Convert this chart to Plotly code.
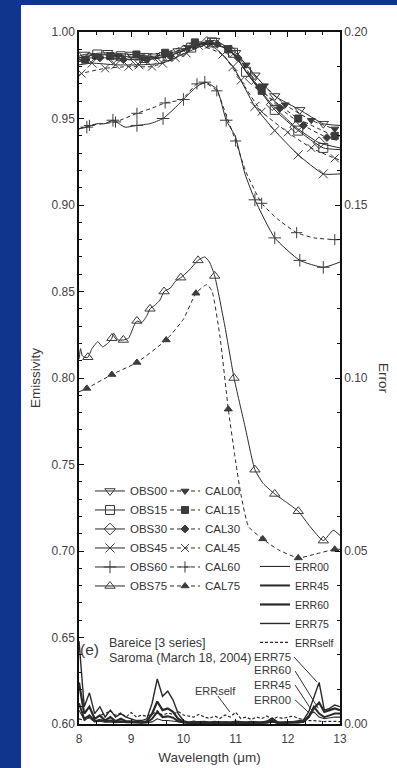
import plotly.graph_objects as go

# ---------------- data ----------------
# Emissivity curves (left axis)
obs00_wl = [8.0, 8.1, 8.55, 9.0, 9.45, 9.9, 10.25, 10.6, 11.0, 11.37, 11.75, 12.23, 12.68, 13.0]
obs00 = [0.986, 0.987, 0.988, 0.987, 0.986, 0.989, 0.993, 0.995, 0.988, 0.975, 0.963, 0.955, 0.947, 0.946]
obs00_mk = [8.1, 8.55, 9.0, 9.45, 9.9, 10.25, 10.6, 11.0, 11.37, 11.75, 12.23, 12.68]

cal00_wl = [8.0, 8.3, 8.75, 9.2, 9.65, 10.1, 10.5, 10.85, 11.2, 11.55, 11.95, 12.45, 12.9, 13.0]
cal00 = [0.985, 0.986, 0.986, 0.985, 0.987, 0.991, 0.994, 0.991, 0.981, 0.969, 0.958, 0.949, 0.944, 0.944]
cal00_mk = [8.3, 8.75, 9.2, 9.65, 10.1, 10.5, 10.85, 11.2, 11.55, 11.95, 12.45, 12.9]

obs15_wl = [8.0, 8.35, 8.8, 9.25, 9.7, 10.15, 10.55, 10.95, 11.2, 11.75, 12.2, 12.68, 13.0]
obs15 = [0.985, 0.987, 0.986, 0.985, 0.986, 0.991, 0.994, 0.988, 0.977, 0.955, 0.943, 0.933, 0.932]
obs15_mk = [8.35, 8.8, 9.25, 9.7, 10.15, 10.55, 10.95, 11.2, 11.75, 12.2, 12.68]

cal15_wl = [8.0, 8.12, 8.6, 9.1, 9.65, 10.22, 10.86, 11.5, 12.2, 12.9, 13.0]
cal15 = [0.983, 0.984, 0.986, 0.987, 0.988, 0.994, 0.990, 0.966, 0.950, 0.940, 0.940]
cal15_mk = [8.12, 8.6, 9.1, 9.65, 10.22, 10.86, 11.5, 12.2, 12.9]

obs30_wl = [8.0, 8.2, 8.65, 9.1, 9.55, 10.0, 10.45, 10.9, 11.3, 11.7, 12.15, 12.6, 13.0]
obs30 = [0.984, 0.985, 0.985, 0.984, 0.985, 0.989, 0.994, 0.989, 0.973, 0.958, 0.945, 0.936, 0.933]
obs30_mk = [8.2, 8.65, 9.1, 9.55, 10.0, 10.45, 10.9, 11.3, 11.7, 12.15, 12.6]

cal30_wl = [8.0, 8.4, 8.85, 9.3, 9.75, 10.2, 10.65, 11.05, 11.45, 11.85, 12.3, 12.75, 13.0]
cal30 = [0.983, 0.985, 0.984, 0.984, 0.986, 0.992, 0.993, 0.985, 0.968, 0.956, 0.946, 0.939, 0.937]
cal30_mk = [8.4, 8.85, 9.3, 9.75, 10.2, 10.65, 11.05, 11.45, 11.85, 12.3, 12.75]

obs45_wl = [8.0, 8.25, 8.7, 9.15, 9.6, 10.05, 10.5, 10.95, 11.37, 11.75, 12.2, 12.68, 13.0]
obs45 = [0.981, 0.982, 0.981, 0.981, 0.982, 0.988, 0.993, 0.980, 0.957, 0.943, 0.929, 0.918, 0.918]
obs45_mk = [8.25, 8.7, 9.15, 9.6, 10.05, 10.5, 10.95, 11.37, 11.75, 12.2, 12.68]

cal45_wl = [8.0, 8.05, 8.5, 8.95, 9.4, 9.85, 10.3, 10.75, 11.1, 11.5, 12.0, 12.45, 12.9, 13.0]
cal45 = [0.975, 0.976, 0.979, 0.980, 0.980, 0.985, 0.992, 0.987, 0.972, 0.954, 0.942, 0.933, 0.927, 0.926]
cal45_mk = [8.05, 8.5, 8.95, 9.4, 9.85, 10.3, 10.75, 11.1, 11.5, 12.0, 12.45, 12.9]

obs60_wl = [8.0, 8.15, 8.34, 8.5, 8.65, 8.88, 9.11, 9.36, 9.61, 9.8, 10.0, 10.2, 10.41, 10.64,
            10.82, 10.99, 11.18, 11.37, 11.75, 12.23, 12.68, 13.0]
obs60 = [0.944, 0.945, 0.947, 0.947, 0.949, 0.945, 0.946, 0.947, 0.950, 0.955, 0.961, 0.967, 0.971, 0.967,
         0.949, 0.940, 0.918, 0.903, 0.881, 0.868, 0.864, 0.867]
obs60_mk = [8.15, 8.65, 9.11, 9.61, 10.0, 10.41, 10.82, 11.37, 11.75, 12.23, 12.68]

cal60_wl = [8.0, 8.2, 8.45, 8.7, 9.11, 9.4, 9.65, 9.97, 10.26, 10.45, 10.64, 10.82, 11.0, 11.2,
            11.5, 11.8, 12.17, 12.5, 12.9, 13.0]
cal60 = [0.944, 0.946, 0.947, 0.948, 0.953, 0.956, 0.959, 0.961, 0.970, 0.970, 0.966, 0.952, 0.937, 0.919,
         0.901, 0.892, 0.884, 0.881, 0.880, 0.880]
cal60_mk = [8.2, 8.7, 9.11, 9.65, 10.26, 10.64, 11.0, 11.5, 12.17, 12.9]

obs75_wl = [8.0, 8.03, 8.06, 8.1, 8.17, 8.25, 8.36, 8.45, 8.55, 8.63, 8.66, 8.75, 8.85, 8.95, 9.05,
            9.11, 9.2, 9.3, 9.36, 9.45, 9.55, 9.63, 9.75, 9.85, 9.95, 10.1, 10.28, 10.41, 10.5,
            10.6, 10.8, 10.97, 11.18, 11.37, 11.53, 11.75, 11.98, 12.2, 12.43, 12.68, 12.87, 13.0]
obs75 = [0.811, 0.817, 0.813, 0.812, 0.812, 0.817, 0.821, 0.818, 0.820, 0.823, 0.826, 0.822, 0.822, 0.823, 0.830,
         0.833, 0.832, 0.836, 0.840, 0.842, 0.845, 0.850, 0.852, 0.856, 0.858, 0.862, 0.868, 0.870, 0.867,
         0.859, 0.829, 0.800, 0.772, 0.747, 0.739, 0.733, 0.728, 0.723, 0.714, 0.706, 0.712, 0.709]
obs75_mk = [8.17, 8.63, 8.85, 9.11, 9.36, 9.63, 9.95, 10.28, 10.6, 10.97, 11.37, 11.75, 12.2, 12.68]

cal75_wl = [8.0, 8.15, 8.63, 9.11, 9.67, 10.0, 10.24, 10.45, 10.55, 10.7, 10.86, 11.0, 11.1, 11.25,
            11.52, 11.8, 12.2, 12.5, 12.9, 13.0]
cal75 = [0.792, 0.794, 0.802, 0.809, 0.822, 0.834, 0.849, 0.854, 0.850, 0.824, 0.782, 0.752, 0.733, 0.714,
         0.707, 0.701, 0.696, 0.698, 0.701, 0.701]
cal75_mk = [8.15, 8.63, 9.11, 9.67, 10.24, 10.86, 11.52, 12.2, 12.9]

# Error curves (right axis), sampled every 0.1 um from 8.0 to 13.0
err_wl = [round(8.0 + 0.1 * i, 1) for i in range(51)]
err75 = [0.024, 0.005, 0.009, 0.003, 0.005, 0.002, 0.004, 0.002, 0.003, 0.002,
         0.0015, 0.001, 0.001, 0.0015, 0.006, 0.013, 0.008, 0.0095, 0.007, 0.003,
         0.001, 0.0005, 0.0008, 0.0005, 0.0006, 0.0005, 0.0007, 0.0005, 0.0006, 0.0005,
         0.0008, 0.0006, 0.0005, 0.0007, 0.0005, 0.0006, 0.0008, 0.0018, 0.0006, 0.0005,
         0.0007, 0.0006, 0.0008, 0.0012, 0.0035, 0.0075, 0.012, 0.004, 0.0045, 0.0055, 0.005]
err60 = [0.012, 0.003, 0.005, 0.0015, 0.0025, 0.001, 0.002, 0.0008, 0.0015, 0.0008,
         0.0008, 0.0006, 0.0005, 0.0008, 0.003, 0.0065, 0.004, 0.0045, 0.0035, 0.0015,
         0.0006, 0.0004, 0.0005, 0.0004, 0.0006, 0.0004, 0.0005, 0.0004, 0.0005, 0.0004,
         0.0006, 0.0004, 0.0005, 0.0004, 0.0005, 0.0004, 0.0006, 0.0012, 0.0005, 0.0004,
         0.0005, 0.0004, 0.0005, 0.0008, 0.002, 0.0045, 0.0062, 0.0035, 0.004, 0.0045, 0.004]
err45 = [0.006, 0.0015, 0.0025, 0.0008, 0.0012, 0.0008, 0.001, 0.0006, 0.0008, 0.0005,
         0.0005, 0.0004, 0.0004, 0.0005, 0.0015, 0.0035, 0.002, 0.0022, 0.0018, 0.0008,
         0.0004, 0.0003, 0.0004, 0.0003, 0.0003, 0.0004, 0.0003, 0.0003, 0.0004, 0.0003,
         0.0003, 0.0004, 0.0003, 0.0003, 0.0004, 0.0003, 0.0004, 0.0008, 0.0003, 0.0003,
         0.0004, 0.0003, 0.0004, 0.0006, 0.002, 0.005, 0.003, 0.002, 0.0025, 0.003, 0.003]
err00 = [0.004, 0.0012, 0.0018, 0.0006, 0.0008, 0.0005, 0.0006, 0.0004, 0.0005, 0.0004,
         0.0004, 0.0004, 0.0003, 0.0004, 0.0006, 0.0015, 0.001, 0.001, 0.0008, 0.0005,
         0.0003, 0.0003, 0.0003, 0.0002, 0.0003, 0.0003, 0.0002, 0.0003, 0.0003, 0.0002,
         0.0003, 0.0003, 0.0002, 0.0003, 0.0003, 0.0002, 0.0003, 0.0005, 0.0003, 0.0002,
         0.0003, 0.0003, 0.0003, 0.0006, 0.0025, 0.0035, 0.002, 0.0015, 0.0018, 0.002, 0.002]
errself = [0.0015, 0.001, 0.002, 0.0015, 0.0025, 0.003, 0.0038, 0.0025, 0.0032, 0.002,
           0.0033, 0.002, 0.0026, 0.0022, 0.0028, 0.0038, 0.0025, 0.0032, 0.0028, 0.0036,
           0.0026, 0.0022, 0.002, 0.0028, 0.002, 0.0016, 0.0023, 0.0016, 0.0026, 0.002,
           0.0034, 0.0016, 0.002, 0.0013, 0.002, 0.0016, 0.0023, 0.0013, 0.002, 0.0016,
           0.002, 0.0023, 0.0016, 0.0013, 0.001, 0.001, 0.0008, 0.0007, 0.0008, 0.0007, 0.0007]

# Leader lines for the error labels: (wavelength, emissivity) endpoints
lead_self = [(10.66, 0.6162), (10.89, 0.6069)]
lead_75 = [(12.12, 0.6387), (12.56, 0.6243)]
lead_60 = [(12.14, 0.6306), (12.58, 0.6092)]
lead_45 = [(12.14, 0.6225), (12.48, 0.6069)]
lead_00 = [(12.14, 0.6139), (12.43, 0.6058)]

# ---------------- styling ----------------
LINE = '#2a2a2a'
MK = '#3c3c3c'
NONE = 'rgba(0,0,0,0)'
CALDASH = '4px,3px'
FONT = 'Liberation Sans, Arial, sans-serif'

fig = go.Figure()


def add_series(wl, val, mk, name, symbol, size, dash, legend):
    cols = [MK if w in mk else NONE for w in wl]
    fig.add_trace(go.Scatter(
        x=wl, y=val, mode='lines+markers', showlegend=False, hoverinfo='skip',
        line=dict(color=LINE, width=1.0, dash=dash, shape='spline', smoothing=0.5),
        marker=dict(symbol=symbol, size=size, color=cols, line=dict(width=1, color=cols))))
    fig.add_trace(go.Scatter(
        x=[None], y=[None], mode='lines+markers', name=name, legend=legend,
        line=dict(color=LINE, width=1.0, dash=dash),
        marker=dict(symbol=symbol, size=size, color=MK, line=dict(width=1, color=MK))))


add_series(obs00_wl, obs00, obs00_mk, 'OBS00', 'triangle-down-open', 9, 'solid', 'legend')
add_series(obs15_wl, obs15, obs15_mk, 'OBS15', 'square-open', 9, 'solid', 'legend')
add_series(obs30_wl, obs30, obs30_mk, 'OBS30', 'diamond-open', 9, 'solid', 'legend')
add_series(obs45_wl, obs45, obs45_mk, 'OBS45', 'x-thin-open', 9, 'solid', 'legend')
add_series(obs60_wl, obs60, obs60_mk, 'OBS60', 'cross-thin-open', 9, 'solid', 'legend')
add_series(obs75_wl, obs75, obs75_mk, 'OBS75', 'triangle-up-open', 9, 'solid', 'legend')

add_series(cal00_wl, cal00, cal00_mk, 'CAL00', 'triangle-down', 7, CALDASH, 'legend2')
add_series(cal15_wl, cal15, cal15_mk, 'CAL15', 'square', 7, CALDASH, 'legend2')
add_series(cal30_wl, cal30, cal30_mk, 'CAL30', 'diamond', 6, CALDASH, 'legend2')
add_series(cal45_wl, cal45, cal45_mk, 'CAL45', 'x-thin-open', 8, CALDASH, 'legend2')
add_series(cal60_wl, cal60, cal60_mk, 'CAL60', 'cross-thin-open', 8, CALDASH, 'legend2')
add_series(cal75_wl, cal75, cal75_mk, 'CAL75', 'triangle-up', 7, CALDASH, 'legend2')

err_specs = [('ERR00', err00, 1.1, 'solid'), ('ERR45', err45, 2.0, 'solid'),
             ('ERR60', err60, 2.2, 'solid'), ('ERR75', err75, 1.4, 'solid'),
             ('ERRself', errself, 1.2, '3px,2px')]
for nm, vals, w, d in err_specs:
    fig.add_trace(go.Scatter(x=err_wl, y=vals, yaxis='y2', mode='lines', name=nm,
                             legend='legend3', hoverinfo='skip',
                             line=dict(color=LINE, width=w, dash=d)))

# leader lines
for seg in [lead_self, lead_75, lead_60, lead_45, lead_00]:
    fig.add_shape(type='line', xref='x', yref='y', x0=seg[0][0], y0=seg[0][1],
                  x1=seg[1][0], y1=seg[1][1], line=dict(color='#333', width=1))

# white page on the blue frame
fig.add_shape(type='rect', xref='paper', yref='paper', x0=-0.2222, x1=1.25, y0=-0.08, y1=1.039,
              fillcolor='white', line=dict(width=0), layer='below')

ann = [
    ('(e)', 0.042, 0.107, 'center', 15.5),
    ('Bareice [3 series]', 0.1073, 0.1171, 'left', 12.5),
    ('Saroma (March 18, 2004)', 0.1073, 0.0954, 'left', 12.5),
    ('ERRself', 0.5211, 0.048, 'center', 11),
    ('ERR75', 0.8199, 0.0965, 'right', 11.5),
    ('ERR60', 0.8199, 0.0777, 'right', 11.5),
    ('ERR45', 0.8199, 0.056, 'right', 11.5),
    ('ERR00', 0.8199, 0.0344, 'right', 11.5),
]
for t, x, y, xa, fs in ann:
    fig.add_annotation(text=t, xref='paper', yref='paper', x=x, y=y, xanchor=xa, yanchor='middle',
                       showarrow=False, font=dict(size=fs, color='#3a3a3a', family=FONT))

fig.add_annotation(text='Error', xref='paper', yref='paper', x=1.1686, y=0.5, textangle=90,
                   xanchor='center', yanchor='middle',
                   showarrow=False, font=dict(size=13.5, color='#3a3a3a', family=FONT))

axis_common = dict(showline=True, linecolor='#111', linewidth=1.5, ticks='inside', ticklen=5,
                   tickwidth=1.3, tickcolor='#111', showgrid=False, zeroline=False, automargin=False,
                   tickfont=dict(size=12, color='#444', family=FONT))

fig.update_layout(
    width=397, height=768,
    margin=dict(l=79, r=57, t=32, b=44, autoexpand=False),
    paper_bgcolor='#0f358c', plot_bgcolor='white',
    font=dict(family=FONT, size=12, color='#444'),
    xaxis=dict(range=[8, 13], dtick=1, tick0=8, mirror='ticks', ticklabelstandoff=3,
               minor=dict(ticks='inside', ticklen=3, dtick=1/3, tick0=8, tickcolor='#111'),
               title=dict(text='Wavelength (μm)', font=dict(size=13.5, color='#3a3a3a'), standoff=7),
               **axis_common),
    yaxis=dict(range=[0.6, 1.0], dtick=0.05, tick0=0.6, tickformat='.2f',
               minor=dict(ticks='inside', ticklen=3, dtick=0.01, tickcolor='#111'),
               title=dict(text='Emissivity', font=dict(size=13.5, color='#3a3a3a'), standoff=8),
               **axis_common),
    yaxis2=dict(range=[0, 0.2], dtick=0.05, tick0=0, tickformat='.2f', overlaying='y', side='right',
                minor=dict(ticks='inside', ticklen=3, dtick=0.01, tickcolor='#111'),
                **axis_common),
    legend=dict(x=0.0421, y=0.3577, xanchor='left', yanchor='top', bgcolor='rgba(0,0,0,0)',
                borderwidth=0, font=dict(size=11.5, color='#333', family=FONT)),
    legend2=dict(x=0.3295, y=0.3577, xanchor='left', yanchor='top', bgcolor='rgba(0,0,0,0)',
                 borderwidth=0, font=dict(size=11.5, color='#333', family=FONT)),
    legend3=dict(x=0.6743, y=0.2486, xanchor='left', yanchor='top', bgcolor='rgba(0,0,0,0)',
                 borderwidth=0, font=dict(size=10.5, color='#333', family=FONT)),
)

fig.write_html('out.html')
